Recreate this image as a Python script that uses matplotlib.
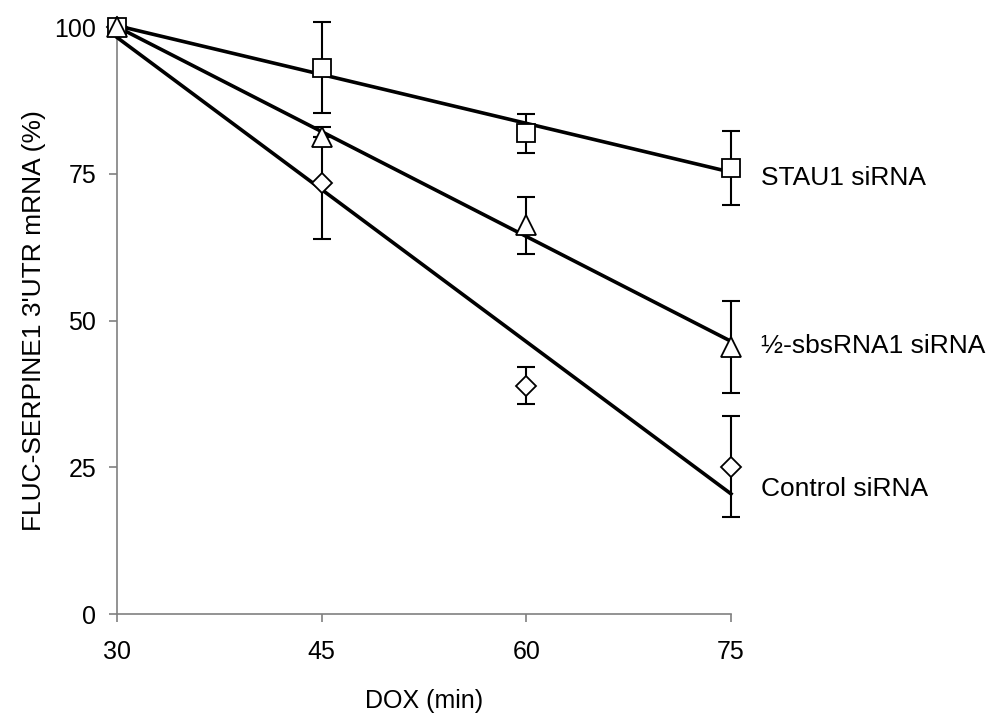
import numpy as np
import matplotlib.pyplot as plt

plt.rcParams['font.family'] = ['Liberation Sans', 'DejaVu Sans']

# time after DOX (min)
times = [30, 45, 60, 75]

# mRNA remaining (%) and error bars
stau1 = [100, 93.1, 81.9, 76.0]
stau1_err = [0, 7.7, 3.3, 6.3]
sbs = [100, 81.3, 66.2, 45.5]
sbs_err = [0, 0, 4.9, 7.9]
control = [100, 73.4, 38.9, 25.1]
control_err = [0, 9.5, 3.2, 8.6]

names = ['Control siRNA', 'STAU1 siRNA', '\u00bd-sbsRNA1 siRNA']
label_y = [21.3, 74.3, 45.7]

# drawn in this order so the triangle ends up on top at t=30
series = [(control, control_err, 'D', 10),
          (stau1, stau1_err, 's', 13.5),
          (sbs, sbs_err, '^', 14.5)]

fig = plt.figure(figsize=(9.9, 7.19), dpi=100)
ax = fig.add_axes([0.1182, 0.146, 0.6202, 0.8164])

x = np.array(times)
for i, ((vals, errs, mk, ms), name, ly) in enumerate(zip(series, names, label_y)):
    # linear trend line, as in the original
    k, b = np.polyfit(x, vals, 1)
    ax.plot([x[0], x[-1]], [k * x[0] + b, k * x[-1] + b], color='black',
            lw=2.6, zorder=3, clip_on=False)
    ax.errorbar(x, vals, yerr=errs, fmt='none', ecolor='black', elinewidth=1.5,
                capsize=6.7, capthick=1.5, zorder=2, clip_on=False)
    ax.plot(x, vals, linestyle='none', marker=mk, ms=ms, mfc='white',
            mec='black', mew=1.3, zorder=4 + i, clip_on=False)
    ax.text(x[-1] + 2.2, ly, name, fontsize=19, va='center', ha='left')

ax.set_xlim(30, 75)
ax.set_ylim(0, 100)
ax.set_xticks(times)
ax.set_yticks([0, 25, 50, 75, 100])

for side in ['top', 'right']:
    ax.spines[side].set_visible(False)
for side in ['left', 'bottom']:
    ax.spines[side].set_color('#808080')
    ax.spines[side].set_linewidth(1.2)

ax.tick_params(direction='out', length=6, width=1.2, color='#808080',
               labelsize=18, pad=9)
ax.tick_params(axis='x', pad=13)

ax.set_xlabel('DOX (min)', fontsize=18, labelpad=18)
ax.set_ylabel("FLUC-SERPINE1 3'UTR mRNA (%)", fontsize=19, labelpad=6)

fig.savefig('out.png', dpi=100)
